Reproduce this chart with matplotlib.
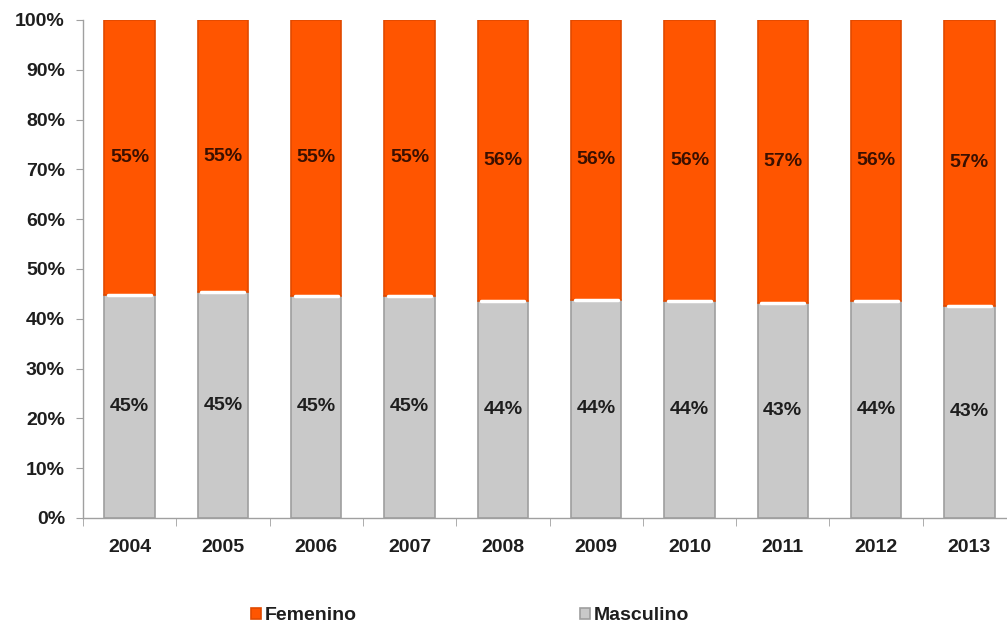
import matplotlib
matplotlib.use("Agg")
import matplotlib.pyplot as plt
import numpy as np
from matplotlib.ticker import FixedLocator, PercentFormatter

years = ["2004", "2005", "2006", "2007", "2008", "2009", "2010", "2011", "2012", "2013"]
masculino = [44.8, 45.3, 44.6, 44.6, 43.6, 43.8, 43.6, 43.2, 43.6, 42.6]
femenino = [100 - m for m in masculino]
masc_labels = ["45%", "45%", "45%", "45%", "44%", "44%", "44%", "43%", "44%", "43%"]
fem_labels = ["55%", "55%", "55%", "55%", "56%", "56%", "56%", "57%", "56%", "57%"]

plt.rcParams['font.family'] = ['Liberation Sans', 'DejaVu Sans']
plt.rcParams['font.weight'] = 'bold'

ORANGE = '#FF5500'
ORANGE_EDGE = '#E04A00'
GRAY = '#C9C9C9'
GRAY_EDGE = '#9E9E9E'
TXT = '#1E1E1E'

fig = plt.figure(figsize=(10.07, 6.29), dpi=100)
ax = fig.add_axes([83 / 1007, 111 / 629, 933 / 1007, 498 / 629])

x = np.arange(len(years))
w = 0.54
bm = ax.bar(x, masculino, width=w, color=GRAY, edgecolor=GRAY_EDGE, linewidth=1.2, label='Masculino', zorder=2)
bf = ax.bar(x, femenino, width=w, bottom=masculino, color=ORANGE, edgecolor=ORANGE_EDGE, linewidth=1.2,
            label='Femenino', zorder=2)
# white separator between segments
for xi, m in zip(x, masculino):
    ax.plot([xi - w / 2 + 0.04, xi + w / 2 - 0.04], [m, m], color='white', lw=2.5, zorder=3, solid_capstyle='round')

for xi, m, f, ml, fl in zip(x, masculino, femenino, masc_labels, fem_labels):
    ax.text(xi, m / 2, ml, ha='center', va='center', fontsize=14, fontweight='bold', color=TXT, zorder=4)
    ax.text(xi, m + f / 2, fl, ha='center', va='center', fontsize=14, fontweight='bold', color='#3a1000', zorder=4)

ax.set_xlim(-0.5, len(years) - 0.5)
ax.set_ylim(0, 100)
ax.yaxis.set_major_locator(FixedLocator(np.arange(0, 101, 10)))
ax.yaxis.set_major_formatter(PercentFormatter(decimals=0))
ax.set_xticks(x)
ax.set_xticklabels(years)
ax.xaxis.set_minor_locator(FixedLocator(np.arange(-0.5, len(years), 1.0)))
ax.tick_params(axis='x', which='major', length=0, pad=15, labelsize=14, labelcolor=TXT)
ax.tick_params(axis='x', which='minor', length=6, color='#A0A0A0', direction='out')
ax.tick_params(axis='y', which='major', length=5, color='#A0A0A0', labelsize=14, labelcolor=TXT, pad=8)
for s in ['top', 'right']:
    ax.spines[s].set_visible(False)
for s in ['left', 'bottom']:
    ax.spines[s].set_color('#A0A0A0')
    ax.spines[s].set_linewidth(1.0)
for lab in ax.get_xticklabels() + ax.get_yticklabels():
    lab.set_fontweight('bold')

leg = fig.legend([bf, bm], ['Femenino', 'Masculino'], loc='center', bbox_to_anchor=(470 / 1007, 13 / 629),
                 ncol=2, frameon=False, handlelength=0.5, handleheight=0.5, handletextpad=0.2,
                 columnspacing=11.5, prop={'size': 14, 'weight': 'bold'})
for t in leg.get_texts():
    t.set_color(TXT)

fig.savefig('out.png', dpi=100)
